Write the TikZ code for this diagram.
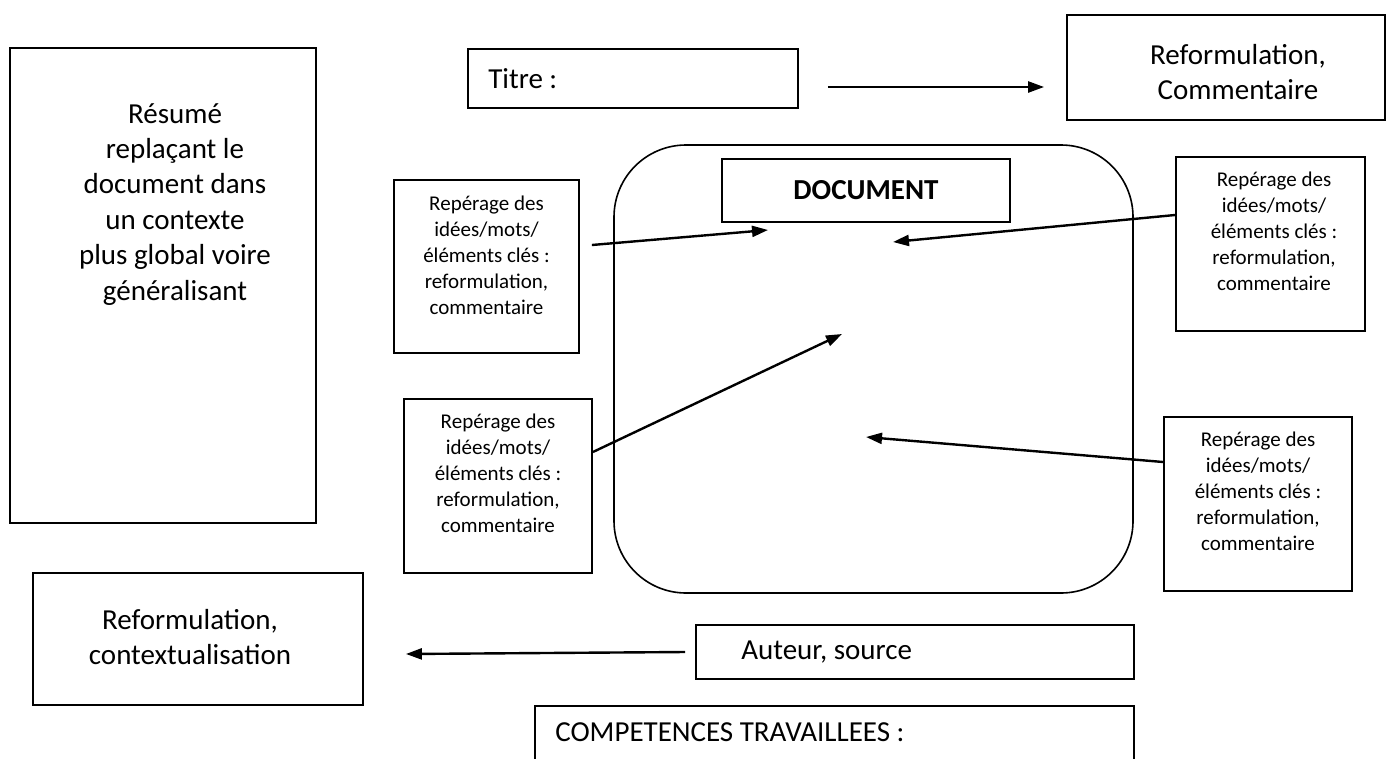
\documentclass[tikz,border=0pt]{standalone}
\usepackage{fontspec}
\setmainfont{Carlito}
\usetikzlibrary{positioning,arrows.meta}

\begin{document}
\begin{tikzpicture}[x=1pt,y=-1pt,>={Triangle[length=16pt,width=11pt]}]
\tikzstyle{box} = [rectangle, draw, line width=1.8pt, inner sep=0pt]
\tikzstyle{big} = [font=\fontsize{29}{35.4}\selectfont, align=center, inner sep=0pt]
\tikzstyle{small} = [font=\fontsize{21}{25.8}\selectfont, align=center, inner sep=0pt]
\tikzstyle{arr} = [->, line width=2.4pt]
\useasboundingbox (0,0) rectangle (1386,758);
\clip (0,0) rectangle (1386,758);
% the document in the middle
\node[box, rounded corners=72pt, line width=1.6pt, minimum width=519pt, minimum height=448pt] (doc) at (873.5,369) {};
\node[box, minimum width=288pt, minimum height=63pt, font=\fontsize{29}{35.4}\selectfont\bfseries] (docbox) at (866,190.5) {DOCUMENT};
% boxes round it
\node[box, minimum width=306pt, minimum height=475pt] (resume) at (163,285.5) {};
\node[big, below=56pt of resume.north, xshift=12pt] (resumetxt) {Résumé\\replaçant le\\document dans\\un contexte\\plus global voire\\généralisant};
\node[box, minimum width=330pt, minimum height=59pt] (titre) at (633,78.5) {};
\node[big, right=21pt of titre.west] (titretxt) {Titre :};
\node[box, minimum width=318pt, minimum height=105pt] (comm) at (1226,67.5) {};
\node[big, below=30pt of comm.north, xshift=12pt] (commtxt) {Reformulation,\\Commentaire};
\node[box, minimum width=185pt, minimum height=173pt] (rep1) at (486.5,266.5) {};
\node[small, below=17pt of rep1.north] (rep1txt) {Repérage des\\idées/mots/\\éléments clés :\\reformulation,\\commentaire};
\node[box, minimum width=189pt, minimum height=174pt] (rep2) at (1270.5,244) {};
\node[small, below=16pt of rep2.north, xshift=3.5pt] (rep2txt) {Repérage des\\idées/mots/\\éléments clés :\\reformulation,\\commentaire};
\node[box, minimum width=188pt, minimum height=174pt] (rep3) at (498,486) {};
\node[small, below=16pt of rep3.north] (rep3txt) {Repérage des\\idées/mots/\\éléments clés :\\reformulation,\\commentaire};
\node[box, minimum width=188pt, minimum height=174pt] (rep4) at (1258,504) {};
\node[small, below=16pt of rep4.north] (rep4txt) {Repérage des\\idées/mots/\\éléments clés :\\reformulation,\\commentaire};
\node[box, minimum width=330pt, minimum height=132pt] (context) at (198,639) {};
\node[big, below=37pt of context.north, xshift=-8pt] (contexttxt) {Reformulation,\\contextualisation};
\node[box, minimum width=438pt, minimum height=54pt] (auteur) at (915,652) {};
\node[big, right=46pt of auteur.west] (auteurtxt) {Auteur, source};
\node[box, minimum width=599pt, minimum height=84pt] (comp) at (834.5,748) {};
\node[big, below right=17pt and 21pt of comp.north west] (comptxt) {COMPETENCES TRAVAILLEES :};
% where the arrows point
\coordinate (t1) at (768,230);
\coordinate (t2) at (893,242);
\coordinate (t3) at (842,334);
\coordinate (t4) at (866,437);
\draw[arr] ([xshift=29pt,yshift=-8.5pt]titre.east) -- ([xshift=-22pt,yshift=-19.5pt]comm.west);
\draw[arr] ([xshift=12pt,yshift=21.5pt]rep1.east) -- (t1);
\draw[arr] ([yshift=29pt]rep2.west) -- (t2);
\draw[arr] ([yshift=34pt]rep3.east) -- (t3);
\draw[arr] ([yshift=42pt]rep4.west) -- (t4);
\draw[arr] ([xshift=-10pt]auteur.west) -- ([xshift=42pt,yshift=-15pt]context.east);
\end{tikzpicture}
\end{document}
